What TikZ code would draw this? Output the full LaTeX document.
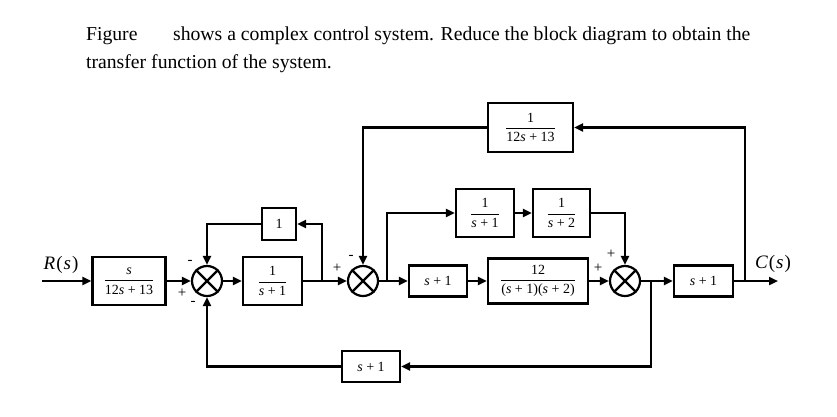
\documentclass[tikz,border=0pt]{standalone}
\usepackage{amsmath}
\usepackage{fontspec}
\setmainfont{Liberation Serif}
\usetikzlibrary{arrows.meta}
\newcommand{\sv}{\textit{s}}
\newcommand{\fr}[2]{$\dfrac{\mbox{#1}}{\mbox{#2}}$}
\begin{document}
\begin{tikzpicture}[x=1pt,y=-1pt,
  line width=2.2pt,
  blk/.style={draw,rectangle,inner sep=0pt,font=\fontsize{14}{16}\selectfont},
  sumj/.style={draw,circle,minimum size=30pt,inner sep=0pt},
  arr/.style={-{Triangle[length=9pt,width=8pt]}},
  sgn/.style={font=\fontsize{15}{15}\selectfont,inner sep=0pt},
  lbl/.style={inner sep=0pt,font=\fontsize{19}{20}\selectfont},
  ttl/.style={anchor=base west,inner sep=0pt,font=\fontsize{19.7}{22}\selectfont}]
\useasboundingbox (0,0) rectangle (837,416);
% title
\node[ttl] (t1) at (85,40) {Figure};
\node[ttl] (t2) at (172,40) {shows a complex control system. Reduce the block diagram to obtain the};
\node[ttl] (t3) at (85,68) {transfer function of the system.};
% blocks
\node[blk,minimum width=73pt,minimum height=48pt] (G1) at (129,281) {\fr{\sv}{12\sv{} + 13}};
\node[sumj] (s1) at (207,281) {};
\node[blk,minimum width=59pt,minimum height=48pt] (G2) at (272.5,281) {\fr{1}{\sv{} + 1}};
\node[blk,minimum width=34pt,minimum height=32pt] (one) at (279,224) {1};
\node[sumj] (s2) at (363,281) {};
\node[blk,minimum width=85pt,minimum height=49pt] (top) at (530.5,127.5) {\fr{1}{12\sv{} + 13}};
\node[blk,minimum width=58pt,minimum height=48pt] (UA) at (485,213) {\fr{1}{\sv{} + 1}};
\node[blk,minimum width=57pt,minimum height=48pt] (UB) at (561.5,213) {\fr{1}{\sv{} + 2}};
\node[blk,minimum width=58pt,minimum height=31pt] (Ls) at (438,281) {\sv{} + 1};
\node[blk,minimum width=100pt,minimum height=45pt] (Lg) at (538,281) {\fr{12}{(\sv{} + 1)(\sv{} + 2)}};
\node[sumj] (s3) at (625,281) {};
\node[blk,minimum width=59pt,minimum height=31pt] (out) at (703.5,281) {\sv{} + 1};
\node[blk,minimum width=58pt,minimum height=31pt] (bot) at (371,366.5) {\sv{} + 1};
% crosses
\foreach \s in {s1,s2,s3}{
  \draw (\s.45) -- (\s.225);
  \draw (\s.135) -- (\s.315);
}
% coordinates
\coordinate (rin) at (42,281);
\coordinate (rout) at (778,281);
\coordinate (b1) at (322,281);
\coordinate (b2) at (387,281);
\coordinate (b3) at (651,281);
\coordinate (b4) at (745,281);
% connectors
\draw[arr] (rin) -- (G1.west);
\draw[arr] (G1.east) -- (s1.west);
\draw[arr] (s1.east) -- (G2.west);
\draw[arr] (G2.east) -- (s2.west);
\draw[arr] (b1) |- (one.east);
\draw[arr] (one.west) -| (s1.north);
\draw[arr] (s2.east) -- (Ls.west);
\draw[arr] (b2) |- (UA.west);
\draw[arr] (UA.east) -- (UB.west);
\draw[arr] (UB.east) -| (s3.north);
\draw[arr] (Ls.east) -- (Lg.west);
\draw[arr] (Lg.east) -- (s3.west);
\draw[arr] (s3.east) -- (out.west);
\draw[arr] (b3) |- (bot.east);
\draw[arr] (bot.west) -| (s1.south);
\draw[arr] (out.east) -- (rout);
\draw[arr] (b4) |- (top.east);
\draw[arr] (top.west) -| (s2.north);
% labels
\node[lbl] (R) at (61,265) {\textit{R}\kern1pt(\kern1pt\textit{s}\kern1pt)};
\node[lbl] (C) at (773,264) {\textit{C}\kern1pt(\kern1pt\textit{s}\kern1pt)};
% signs
\node[sgn] (p1a) at (190,262) {-};
\node[sgn] (p1b) at (182,293) {+};
\node[sgn] (p1c) at (193,303) {-};
\node[sgn] (p2a) at (337,268) {+};
\node[sgn] (p2b) at (351,257) {-};
\node[sgn] (p3a) at (611,254) {+};
\node[sgn] (p3b) at (598,268) {+};
\end{tikzpicture}
\end{document}
